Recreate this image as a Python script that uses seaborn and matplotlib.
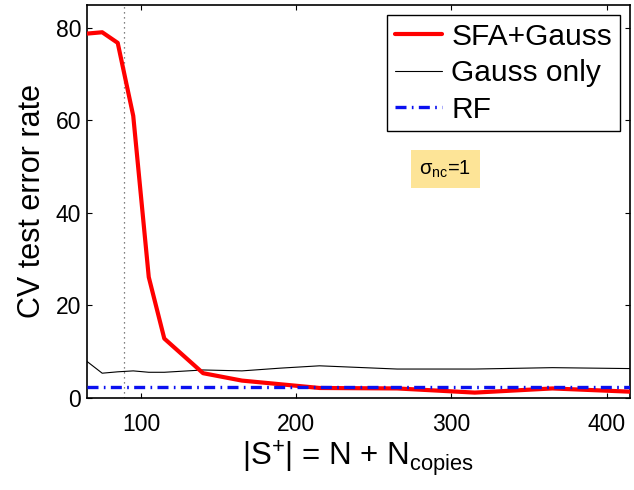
import matplotlib
matplotlib.use("Agg")
import matplotlib.pyplot as plt
import seaborn as sns
import pandas as pd

# Training-set size |S+| = N + N_copies
set_size = [65, 75, 85, 95, 105, 115, 140, 165, 190, 215, 265, 315, 365, 415]
# CV test error rate (%) per method
sfa_gauss = [78.8, 79.1, 76.8, 61.0, 26.1, 12.8, 5.3, 3.7, 2.9, 2.1, 2.0, 1.1, 2.0, 1.3]
gauss_only = [7.9, 5.3, 5.6, 5.8, 5.5, 5.5, 6.0, 5.8, 6.4, 6.9, 6.2, 6.2, 6.5, 6.3]
rf_error = 2.4
n_marker = 89

sns.set_style("ticks")
plt.rcParams["font.family"] = ["Liberation Sans", "DejaVu Sans"]
plt.rcParams["mathtext.fontset"] = "custom"
plt.rcParams["mathtext.rm"] = "Liberation Sans"
plt.rcParams["mathtext.it"] = "Liberation Sans:italic"
plt.rcParams["text.color"] = "black"
plt.rcParams["axes.labelcolor"] = "black"
plt.rcParams["xtick.color"] = "black"
plt.rcParams["ytick.color"] = "black"

df = pd.DataFrame({"size": set_size, "sfa": sfa_gauss, "gauss": gauss_only})

fig = plt.figure(figsize=(6.34, 4.9), dpi=100)
ax = fig.add_axes([0.1367, 0.1884, 0.857, 0.8014])

sns.lineplot(data=df, x="size", y="sfa", ax=ax, color="red", lw=3.0,
             label="SFA+Gauss", zorder=3)
sns.lineplot(data=df, x="size", y="gauss", ax=ax, color="black", lw=0.8,
             label="Gauss only", zorder=2)
ax.axhline(rf_error, color="#0a10f0", lw=2.4, dashes=(3.3, 1.6, 0.5, 1.6),
           label="RF", zorder=4)
ax.axvline(n_marker, color="0.35", lw=0.9, ls=(0, (1, 3)), zorder=1)

ax.set_xlim(65, 415)
ax.set_ylim(0, 85)
ax.set_xticks([100, 200, 300, 400])
ax.set_yticks([0, 20, 40, 60, 80])
ax.tick_params(direction="in", top=True, right=True, length=3.6, width=0.8,
               labelsize=16.5)
ax.tick_params(axis="x", pad=11)
ax.tick_params(axis="y", pad=4)
for sp in ax.spines.values():
    sp.set_linewidth(1.2)
    sp.set_color("black")

ax.set_xlabel(r"|S$^{+}$| = N + N$_{\rm copies}$", fontsize=22.5, labelpad=2)
ax.set_ylabel("CV test error rate", fontsize=22, labelpad=6)

leg = ax.legend(loc="upper right", fontsize=21.5, frameon=True, fancybox=False,
                edgecolor="black", framealpha=1, handlelength=1.6,
                handletextpad=0.3, labelspacing=0.28, borderpad=0.25,
                borderaxespad=0.35)
leg.get_frame().set_linewidth(1.0)

ax.text(296, 49.5, r"σ$_{\rm nc}$=1", fontsize=14.5, ha="center", va="center",
        bbox=dict(boxstyle="square,pad=0.42", facecolor="#fde497",
                  edgecolor="none"))

fig.savefig("out.png", dpi=100)
